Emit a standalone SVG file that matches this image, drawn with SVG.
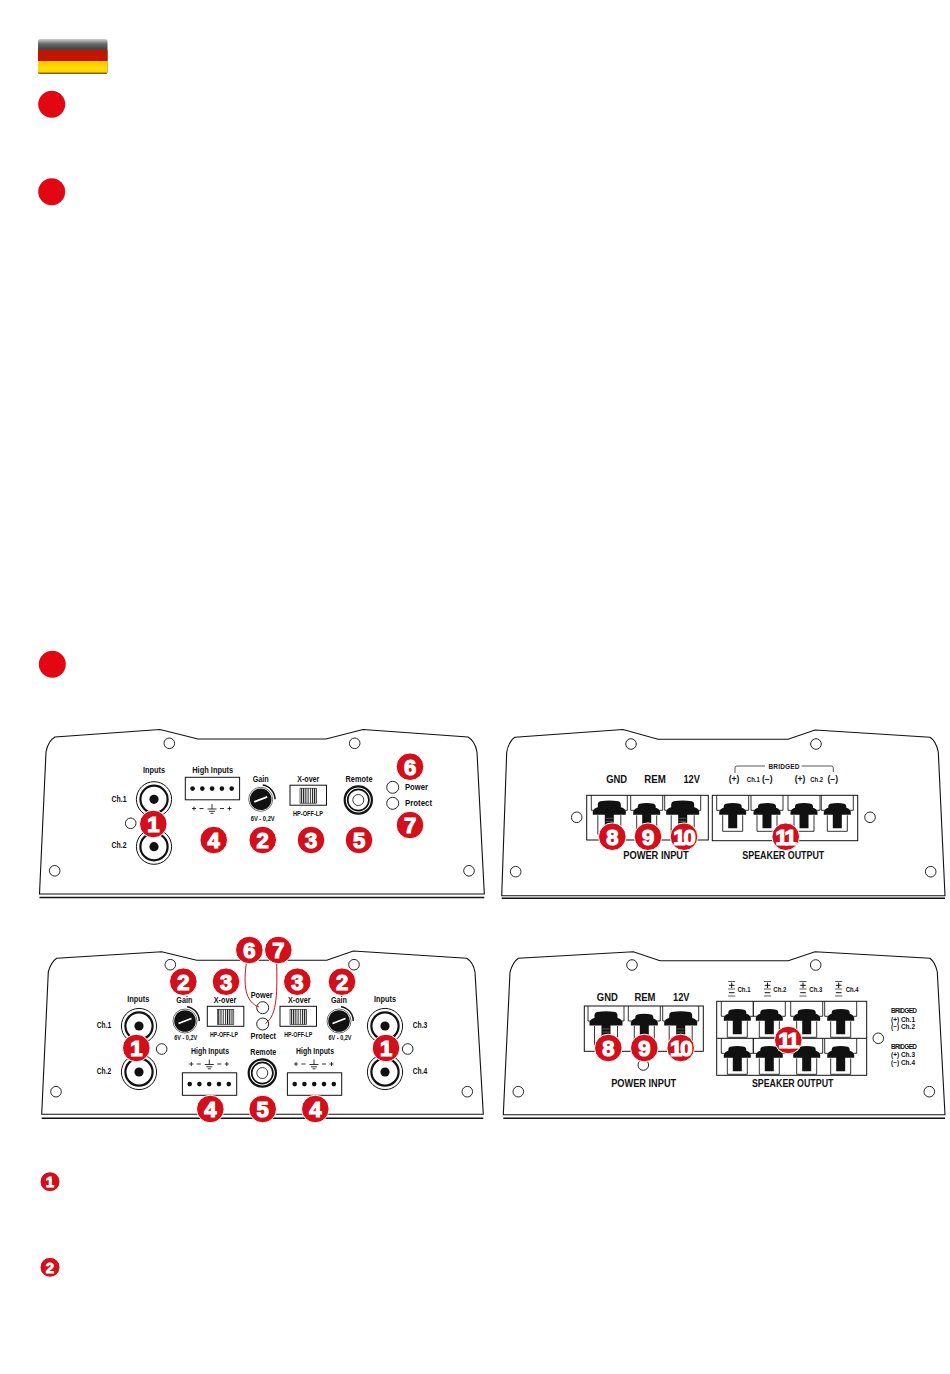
<svg xmlns="http://www.w3.org/2000/svg" width="950" height="1374" viewBox="0 0 950 1374">
<style>
text{font-family:"Liberation Sans",Arial,sans-serif;font-weight:700;fill:#111;text-anchor:middle}
.l{font-size:8.5px}
.s{font-size:7px}
.xs{font-size:6.5px}
.m{font-size:11.2px}
.st{text-anchor:start}
.n{font-size:22px;fill:#fff;stroke:#fff;stroke-width:1.2px}
.ns{font-size:15px;stroke-width:.8px}
.ten{letter-spacing:-2px}
.line{fill:none;stroke:#111;stroke-width:1}
.t6{stroke-width:.7}
.t8{stroke-width:.85}
.body{fill:none;stroke:#111;stroke-width:1.1}
.base{fill:none;stroke:#111;stroke-width:1.4}
.hole{fill:#fff;stroke:#111;stroke-width:.9}
.bad{fill:#d2101c;stroke:#fff;stroke-width:1}
.red{fill:#e30613}
.wire{fill:none;stroke:#d2101c;stroke-width:1}
.blk{fill:#111}
</style>
<defs>
<linearGradient id="fd" x1="0" y1="0" x2="0" y2="1"><stop offset="0" stop-color="#d0d0d0"/><stop offset=".14" stop-color="#6a6a6a"/><stop offset=".28" stop-color="#444"/><stop offset="1" stop-color="#3a3a3a"/></linearGradient>
<linearGradient id="fy" x1="0" y1="0" x2="0" y2="1"><stop offset="0" stop-color="#f7c600"/><stop offset=".6" stop-color="#ffdc00"/><stop offset=".84" stop-color="#ffd400"/><stop offset="1" stop-color="#8a5a10"/></linearGradient>
<pattern id="hatch" width="2.2" height="4" patternUnits="userSpaceOnUse"><rect width="1" height="4" fill="#111"/></pattern>
<g id="rca"><circle r="17.6" fill="#fff" stroke="#111" stroke-width="1"/><circle r="13.6" fill="#fff" stroke="#111" stroke-width="2.2"/><circle r="4.6" fill="#111"/></g>
<g id="rem"><circle r="13.6" fill="#fff" stroke="#111" stroke-width="2.2"/><circle r="10.6" fill="#fff" stroke="#111" stroke-width="1.7"/><circle r="5.5" fill="#fff" stroke="#111" stroke-width=".8"/></g>
<g id="knob"><path d="M2 -14.2A14.3 14.3 0 0 1 14.3 0" fill="none" stroke="#111" stroke-width="1.5"/><circle r="10.8" fill="#111"/><circle r="12" fill="none" stroke="#111" stroke-width=".6"/><path d="M-6.5 2.5L6.5 -2.5" stroke="#fff" stroke-width="1.8"/></g>
<g id="xover"><rect width="36.5" height="20" fill="#fff" stroke="#111" stroke-width="1"/><rect x="10" y="3" width="16.5" height="15" fill="url(#hatch)" stroke="#111" stroke-width=".6"/></g>
<g id="hi"><rect width="54.3" height="22.5" fill="#fff" stroke="#111" stroke-width="1"/><circle cx="7.3" cy="11.3" r="2.3" class="blk"/><circle cx="17" cy="11.3" r="2.3" class="blk"/><circle cx="26.8" cy="11.3" r="2.3" class="blk"/><circle cx="36.6" cy="11.3" r="2.3" class="blk"/><circle cx="46.4" cy="11.3" r="2.3" class="blk"/></g>
<g id="sym"><path d="M-20 0h4M-18 -2v4M-12.5 0h4M8 0h4M15.5 0h4M17.5 -2v4" class="line t8"/><path d="M0 -4.5v5M-4.5 .5h9M-3 2.8h6M-1.5 4.8h3" class="line t8"/></g>
<g id="tb"><path d="M-18 0V15H18V0" class="line t8"/><path d="M-11.5 20V39H11.5V20" class="line t8"/><path d="M-9 6Q0 4.5 9 6Q11.5 6.5 11.5 9.5V12Q15 12.5 16.5 16V19.5H4.5V33H-4.5V19.5H-16.5V16Q-15 12.5 -11.5 12V9.5Q-11.5 6.5 -9 6Z" class="blk"/><path d="M-3.5 23h7M-3.5 26h7M-3.5 29h7" stroke="#777" stroke-width=".7"/></g>
<g id="tm"><path d="M-16 0V15H16V0" class="line t8"/><path d="M-10 20V36H10V20" class="line t8"/><path d="M-7 8.5Q0 7 7 8.5Q9 9 9 11V12.5Q12 13 13.5 16.5V19.5H4.5V33H-4.5V19.5H-13.5V16.5Q-12 13 -9 12.5V11Q-9 9 -7 8.5Z" class="blk"/></g>
<g id="pm"><path d="M-3.5 -7.5H3.5M-3.5 0H3.5M-3.5 7H3.5" class="line t6"/><path d="M-2.8 -3.7H2.8M0 -6.4V-1M-2.8 3.7H2.8" class="line"/></g>
</defs>

<g id="flag"><rect x="38" y="39" width="69.5" height="35" rx="2.5" fill="url(#fd)"/><rect x="38" y="50" width="69.5" height="11" fill="#c01500"/><path d="M38 61H107.5V71.2A2.5 2.5 0 0 1 105 73.7H40.5A2.5 2.5 0 0 1 38 71.2Z" fill="url(#fy)"/></g>
<g id="bullets"><circle class="red" cx="51.7" cy="104.3" r="13.5"/><circle class="red" cx="51.7" cy="191.7" r="13.5"/><circle class="red" cx="52.3" cy="664.3" r="13.5"/></g>

<g id="panel-1">
<path class="body" d="M39.5 894L46 752Q48 741 55 737L160 729.5L198 739H326L363 729.5L468 737Q475 741 477 752L484.3 894Z"/><path class="base" d="M39.5 897.5H484.3"/>
<circle class="hole" cx="169.3" cy="743.3" r="5.3"/><circle class="hole" cx="354.7" cy="743.3" r="5.3"/><circle class="hole" cx="54.7" cy="870.8" r="5.3"/><circle class="hole" cx="469" cy="870.8" r="5.3"/><circle class="hole" cx="130.7" cy="823.3" r="5.3"/>
<use href="#rca" x="154" y="799.3"/><use href="#rca" x="154" y="846.7"/>
<text class="l" x="154" y="772.5" textLength="22" lengthAdjust="spacingAndGlyphs">Inputs</text><text class="l" x="119" y="802" textLength="15" lengthAdjust="spacingAndGlyphs">Ch.1</text><text class="l" x="119" y="848" textLength="15" lengthAdjust="spacingAndGlyphs">Ch.2</text>
<text class="l" x="212.7" y="772.5" textLength="41" lengthAdjust="spacingAndGlyphs">High Inputs</text><use href="#hi" x="185.3" y="777.3"/><use href="#sym" x="212" y="808.5"/>
<text class="l" x="260.7" y="781.5" textLength="16" lengthAdjust="spacingAndGlyphs">Gain</text><use href="#knob" x="260.7" y="799.3"/><text class="s" x="262.7" y="820.7" textLength="24" lengthAdjust="spacingAndGlyphs">6V - 0,2V</text>
<text class="l" x="308.3" y="781.5" textLength="22" lengthAdjust="spacingAndGlyphs">X-over</text><use href="#xover" x="290" y="785.2"/><text class="xs" x="308" y="816" textLength="30" lengthAdjust="spacingAndGlyphs">HP-OFF-LP</text>
<text class="l" x="359" y="781.5" textLength="27" lengthAdjust="spacingAndGlyphs">Remote</text><use href="#rem" x="358.3" y="800"/>
<circle class="hole" cx="392.7" cy="787.3" r="6"/><circle class="hole" cx="392.7" cy="803.3" r="6"/><text class="l st" x="405" y="789.5" textLength="23" lengthAdjust="spacingAndGlyphs">Power</text><text class="l st" x="405" y="805.7" textLength="27" lengthAdjust="spacingAndGlyphs">Protect</text>
</g>
<g id="badges-1">
<g id="b1-1"><circle class="bad" cx="153.3" cy="824" r="13.8"/><text class="n" x="153.3" y="832">1</text></g>
<g id="b1-4"><circle class="bad" cx="213.7" cy="840" r="13.8"/><text class="n" x="213.7" y="848">4</text></g>
<g id="b1-2"><circle class="bad" cx="262.7" cy="840" r="13.8"/><text class="n" x="262.7" y="848">2</text></g>
<g id="b1-3"><circle class="bad" cx="311" cy="840" r="13.8"/><text class="n" x="311" y="848">3</text></g>
<g id="b1-5"><circle class="bad" cx="359" cy="840" r="13.8"/><text class="n" x="359" y="848">5</text></g>
<g id="b1-6"><circle class="bad" cx="410" cy="766.7" r="13.8"/><text class="n" x="410" y="774.7">6</text></g>
<g id="b1-7"><circle class="bad" cx="410" cy="825" r="13.8"/><text class="n" x="410" y="833">7</text></g>
</g>

<g id="panel-2">
<path class="body" d="M501.7 895.7L506.7 752Q509 741 515 737.3L623 729.5L658 739.3H788L815 730L930 737.3Q936 741 938.3 752L945 895.7Z"/><path class="base" d="M501.7 898.3H945"/>
<circle class="hole" cx="631" cy="744" r="5.3"/><circle class="hole" cx="816" cy="744" r="5.3"/><circle class="hole" cx="576.7" cy="817.3" r="5.3"/><circle class="hole" cx="870" cy="817.3" r="5.3"/><circle class="hole" cx="515.7" cy="871.7" r="5.3"/><circle class="hole" cx="930.7" cy="871.7" r="5.3"/>
<rect class="line" x="586.7" y="795.3" width="121.6" height="44.7"/><rect class="line" x="712.3" y="795.3" width="145.4" height="45.4"/>
<use href="#tb" x="609.3" y="795.3"/><use href="#tm" x="646.7" y="795.3"/><use href="#tb" x="682.7" y="795.3"/>
<use href="#tm" x="732.7" y="795.3"/><use href="#tm" x="767" y="795.3"/><use href="#tm" x="804" y="795.3"/><use href="#tm" x="837.3" y="795.3"/>
<text class="m" x="616.7" y="782.7" textLength="21" lengthAdjust="spacingAndGlyphs">GND</text><text class="m" x="655" y="782.7" textLength="21.5" lengthAdjust="spacingAndGlyphs">REM</text><text class="m" x="691.7" y="782.7" textLength="16.5" lengthAdjust="spacingAndGlyphs">12V</text>
<text class="m" x="656" y="859" textLength="65.5" lengthAdjust="spacingAndGlyphs">POWER INPUT</text><text class="m" x="783.3" y="859" textLength="82" lengthAdjust="spacingAndGlyphs">SPEAKER OUTPUT</text>
<text class="xs" x="784" y="769" textLength="31" lengthAdjust="spacing">BRIDGED</text><path class="line t6" d="M735 773V768Q735 766 737 766H765M801.7 766H831Q833.3 766 833.3 768V772"/>
<text class="l" x="734" y="782">(+)</text><text class="s" x="753.3" y="782" textLength="13" lengthAdjust="spacingAndGlyphs">Ch.1</text><text class="l" x="767.3" y="782">(−)</text><text class="l" x="800" y="782">(+)</text><text class="s" x="816.7" y="782" textLength="13" lengthAdjust="spacingAndGlyphs">Ch.2</text><text class="l" x="832.7" y="782">(−)</text>
</g>
<g id="badges-2">
<g id="b2-8"><circle class="bad" cx="612.3" cy="836.7" r="13.8"/><text class="n" x="612.3" y="844.7">8</text></g>
<g id="b2-9"><circle class="bad" cx="648" cy="836.7" r="13.8"/><text class="n" x="648" y="844.7">9</text></g>
<g id="b2-10"><circle class="bad" cx="684" cy="836.7" r="13.8"/><text class="n ten" x="683.5" y="844.7">10</text></g>
<g id="b2-11"><circle class="bad" cx="785.7" cy="836.7" r="13.8"/><text class="n ten" x="785.2" y="844.7">11</text></g>
</g>

<g id="panel-3">
<path class="body" d="M41.7 1114.3L48.3 972Q51 962 56.7 958.3L161.7 951.7L196.7 960.3H326.7L353.3 951L466.7 958.3Q473 962 475 972L483.3 1114.3Z"/><path class="base" d="M41.7 1118.3H483.3"/>
<circle class="hole" cx="170.3" cy="964.7" r="5.3"/><circle class="hole" cx="354" cy="964.7" r="5.3"/><circle class="hole" cx="56" cy="1091.7" r="5.3"/><circle class="hole" cx="467.3" cy="1091.7" r="5.3"/><circle class="hole" cx="161.7" cy="1049" r="5.3"/><circle class="hole" cx="407.7" cy="1049" r="5.3"/>
<use href="#rca" x="139" y="1026"/><use href="#rca" x="139" y="1072"/><use href="#rca" x="385" y="1026"/><use href="#rca" x="385" y="1072"/>
<text class="l" x="138.3" y="1002.3" textLength="22" lengthAdjust="spacingAndGlyphs">Inputs</text><text class="l" x="385" y="1002.3" textLength="22" lengthAdjust="spacingAndGlyphs">Inputs</text>
<text class="l" x="104" y="1028.3" textLength="14.5" lengthAdjust="spacingAndGlyphs">Ch.1</text><text class="l" x="104" y="1074" textLength="14.5" lengthAdjust="spacingAndGlyphs">Ch.2</text><text class="l" x="420" y="1028.3" textLength="14.5" lengthAdjust="spacingAndGlyphs">Ch.3</text><text class="l" x="420" y="1074" textLength="14.5" lengthAdjust="spacingAndGlyphs">Ch.4</text>
<text class="l" x="184.3" y="1003" textLength="16" lengthAdjust="spacingAndGlyphs">Gain</text><text class="l" x="339" y="1003" textLength="16" lengthAdjust="spacingAndGlyphs">Gain</text><use href="#knob" x="185" y="1021"/><use href="#knob" x="339" y="1021"/><text class="s" x="185.7" y="1039.7" textLength="23" lengthAdjust="spacingAndGlyphs">6V - 0,2V</text><text class="s" x="340" y="1039.7" textLength="23" lengthAdjust="spacingAndGlyphs">6V - 0,2V</text>
<text class="l" x="225" y="1003" textLength="22.5" lengthAdjust="spacingAndGlyphs">X-over</text><text class="l" x="299.3" y="1003" textLength="22.5" lengthAdjust="spacingAndGlyphs">X-over</text><use href="#xover" x="207.3" y="1006.3"/><use href="#xover" x="280" y="1006.3"/><text class="xs" x="224" y="1036.7" textLength="28" lengthAdjust="spacingAndGlyphs">HP-OFF-LP</text><text class="xs" x="298.3" y="1036.7" textLength="28" lengthAdjust="spacingAndGlyphs">HP-OFF-LP</text>
<circle class="hole" cx="262.7" cy="1007.7" r="6"/><circle class="hole" cx="262.7" cy="1024" r="6"/><text class="l" x="261.7" y="998.3" textLength="22" lengthAdjust="spacingAndGlyphs">Power</text><text class="l" x="263.3" y="1039" textLength="25.5" lengthAdjust="spacingAndGlyphs">Protect</text>
<text class="l" x="210" y="1054.3" textLength="38" lengthAdjust="spacingAndGlyphs">High Inputs</text><text class="l" x="315" y="1054.3" textLength="38" lengthAdjust="spacingAndGlyphs">High Inputs</text><use href="#sym" x="209.3" y="1064"/><use href="#sym" x="314" y="1064"/><use href="#hi" x="182.4" y="1072.8"/><use href="#hi" x="287.4" y="1072.8"/>
<text class="l" x="263.3" y="1055" textLength="26" lengthAdjust="spacingAndGlyphs">Remote</text><use href="#rem" x="262.3" y="1073"/>
</g>
<g id="connectors"><path class="wire" d="M246.7 961C243 985 245 1002 259 1007"/><path class="wire" d="M276.7 961.7C277 990 278 1015 265.5 1023.5"/></g>
<g id="badges-3">
<g id="b3-1a"><circle class="bad" cx="136.3" cy="1048" r="13.8"/><text class="n" x="136.3" y="1056">1</text></g>
<g id="b3-1b"><circle class="bad" cx="386" cy="1048" r="13.8"/><text class="n" x="386" y="1056">1</text></g>
<g id="b3-2a"><circle class="bad" cx="183.3" cy="981.7" r="13.8"/><text class="n" x="183.3" y="989.7">2</text></g>
<g id="b3-3a"><circle class="bad" cx="226" cy="981.7" r="13.8"/><text class="n" x="226" y="989.7">3</text></g>
<g id="b3-3b"><circle class="bad" cx="297.3" cy="981.7" r="13.8"/><text class="n" x="297.3" y="989.7">3</text></g>
<g id="b3-2b"><circle class="bad" cx="342" cy="981.7" r="13.8"/><text class="n" x="342" y="989.7">2</text></g>
<g id="b3-6"><circle class="bad" cx="249.3" cy="950" r="13.8"/><text class="n" x="249.3" y="958">6</text></g>
<g id="b3-7"><circle class="bad" cx="278.3" cy="950" r="13.8"/><text class="n" x="278.3" y="958">7</text></g>
<g id="b3-4a"><circle class="bad" cx="210.3" cy="1109" r="13.8"/><text class="n" x="210.3" y="1117">4</text></g>
<g id="b3-5"><circle class="bad" cx="262.7" cy="1109" r="13.8"/><text class="n" x="262.7" y="1117">5</text></g>
<g id="b3-4b"><circle class="bad" cx="315.3" cy="1109" r="13.8"/><text class="n" x="315.3" y="1117">4</text></g>
</g>

<g id="panel-4">
<path class="body" d="M503.3 1114.7L510 972Q513 962 518.3 958.3L633.3 951.7L660 960.7H788.3L815 951.7L930 958.3Q935 962 937.3 972L945 1114.7Z"/><path class="base" d="M503.3 1118.3H945"/>
<circle class="hole" cx="632" cy="965" r="5.3"/><circle class="hole" cx="815.7" cy="965" r="5.3"/><circle class="hole" cx="518.3" cy="1091.7" r="5.3"/><circle class="hole" cx="929.3" cy="1091.7" r="5.3"/><circle class="hole" cx="878.3" cy="1038.3" r="5.3"/><circle class="hole" cx="643.3" cy="1065" r="5.3"/>
<rect class="line" x="584.3" y="1006" width="119" height="45.3"/><rect class="line" x="716.7" y="1001.3" width="150" height="74"/><path class="line" d="M716.7 1038.3H866.7"/>
<use href="#tb" x="606" y="1006"/><use href="#tm" x="644.3" y="1006"/><use href="#tb" x="680.7" y="1006"/>
<use href="#tm" x="737.3" y="1001.3"/><use href="#tm" x="769.3" y="1001.3"/><use href="#tm" x="806.7" y="1001.3"/><use href="#tm" x="840.7" y="1001.3"/>
<use href="#tm" x="737.3" y="1038.3"/><use href="#tm" x="769.3" y="1038.3"/><use href="#tm" x="806.7" y="1038.3"/><use href="#tm" x="840.7" y="1038.3"/>
<text class="m" x="607.3" y="1000.7" textLength="21" lengthAdjust="spacingAndGlyphs">GND</text><text class="m" x="645" y="1000.7" textLength="21" lengthAdjust="spacingAndGlyphs">REM</text><text class="m" x="681.3" y="1000.7" textLength="16.5" lengthAdjust="spacingAndGlyphs">12V</text>
<text class="m" x="643.7" y="1086.7" textLength="65" lengthAdjust="spacingAndGlyphs">POWER INPUT</text><text class="m" x="792.7" y="1086.7" textLength="81.5" lengthAdjust="spacingAndGlyphs">SPEAKER OUTPUT</text>
<use href="#pm" x="731.7" y="989"/><use href="#pm" x="767.5" y="989"/><use href="#pm" x="803" y="989"/><use href="#pm" x="838.7" y="989"/>
<text class="s st" x="737.5" y="991.7" textLength="13" lengthAdjust="spacingAndGlyphs">Ch.1</text><text class="s st" x="773.3" y="991.7" textLength="13" lengthAdjust="spacingAndGlyphs">Ch.2</text><text class="s st" x="809.3" y="991.7" textLength="13" lengthAdjust="spacingAndGlyphs">Ch.3</text><text class="s st" x="845.7" y="991.7" textLength="13" lengthAdjust="spacingAndGlyphs">Ch.4</text>
<text class="xs st" x="891" y="1013.3" textLength="26" lengthAdjust="spacing">BRIDGED</text><text class="xs st" x="891" y="1021.7" textLength="24" lengthAdjust="spacing">(+) Ch.1</text><text class="xs st" x="891" y="1029.3" textLength="24" lengthAdjust="spacing">(−) Ch.2</text>
<text class="xs st" x="891" y="1049.3" textLength="26" lengthAdjust="spacing">BRIDGED</text><text class="xs st" x="891" y="1057.3" textLength="24" lengthAdjust="spacing">(+) Ch.3</text><text class="xs st" x="891" y="1065" textLength="24" lengthAdjust="spacing">(−) Ch.4</text>
</g>
<g id="badges-4">
<g id="b4-8"><circle class="bad" cx="608.3" cy="1048" r="13.8"/><text class="n" x="608.3" y="1056">8</text></g>
<g id="b4-9"><circle class="bad" cx="644.3" cy="1048" r="13.8"/><text class="n" x="644.3" y="1056">9</text></g>
<g id="b4-10"><circle class="bad" cx="680.7" cy="1048" r="13.8"/><text class="n ten" x="680.2" y="1056">10</text></g>
<g id="b4-11"><circle class="bad" cx="788.3" cy="1040" r="13.8"/><text class="n ten" x="787.8" y="1048">11</text></g>
</g>

<g id="legend-1"><circle class="bad" cx="50" cy="1181.7" r="10"/><text class="n ns" x="50" y="1187.2">1</text></g>
<g id="legend-2"><circle class="bad" cx="50" cy="1267.3" r="10"/><text class="n ns" x="50" y="1272.8">2</text></g>
</svg>
